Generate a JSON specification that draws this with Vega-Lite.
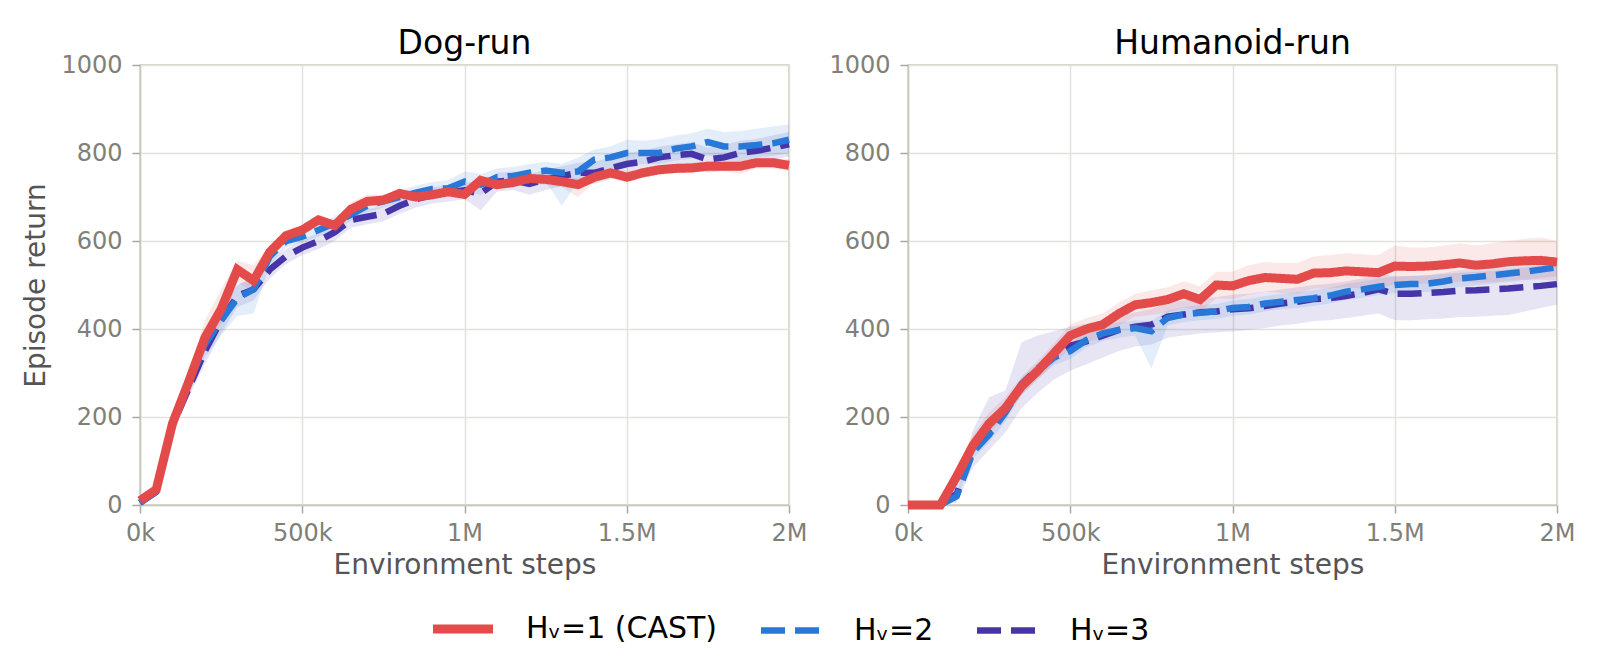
{
  "$schema": "https://vega.github.io/schema/vega-lite/v6.json",
  "background": "white",
  "padding": {"left": 22, "top": 27, "right": 10, "bottom": 5},
  "spacing": 20,
  "datasets": {
    "runs": [
      {"t":"Dog-run","s":"3","k":0,"v":5,"lo":0,"hi":12},
      {"t":"Dog-run","s":"3","k":50,"v":30,"lo":20,"hi":40},
      {"t":"Dog-run","s":"3","k":100,"v":180,"lo":165,"hi":195},
      {"t":"Dog-run","s":"3","k":150,"v":265,"lo":245,"hi":290},
      {"t":"Dog-run","s":"3","k":200,"v":350,"lo":320,"hi":380},
      {"t":"Dog-run","s":"3","k":250,"v":420,"lo":390,"hi":450},
      {"t":"Dog-run","s":"3","k":300,"v":475,"lo":450,"hi":500},
      {"t":"Dog-run","s":"3","k":350,"v":490,"lo":465,"hi":515},
      {"t":"Dog-run","s":"3","k":400,"v":535,"lo":515,"hi":555},
      {"t":"Dog-run","s":"3","k":450,"v":565,"lo":548,"hi":582},
      {"t":"Dog-run","s":"3","k":500,"v":585,"lo":568,"hi":602},
      {"t":"Dog-run","s":"3","k":550,"v":600,"lo":582,"hi":618},
      {"t":"Dog-run","s":"3","k":600,"v":620,"lo":600,"hi":640},
      {"t":"Dog-run","s":"3","k":650,"v":648,"lo":630,"hi":665},
      {"t":"Dog-run","s":"3","k":700,"v":655,"lo":638,"hi":672},
      {"t":"Dog-run","s":"3","k":750,"v":662,"lo":645,"hi":680},
      {"t":"Dog-run","s":"3","k":800,"v":680,"lo":662,"hi":698},
      {"t":"Dog-run","s":"3","k":850,"v":695,"lo":676,"hi":712},
      {"t":"Dog-run","s":"3","k":900,"v":705,"lo":685,"hi":722},
      {"t":"Dog-run","s":"3","k":950,"v":710,"lo":690,"hi":728},
      {"t":"Dog-run","s":"3","k":1000,"v":715,"lo":695,"hi":735},
      {"t":"Dog-run","s":"3","k":1050,"v":708,"lo":670,"hi":730},
      {"t":"Dog-run","s":"3","k":1100,"v":735,"lo":712,"hi":755},
      {"t":"Dog-run","s":"3","k":1150,"v":738,"lo":716,"hi":758},
      {"t":"Dog-run","s":"3","k":1200,"v":730,"lo":705,"hi":752},
      {"t":"Dog-run","s":"3","k":1250,"v":740,"lo":716,"hi":762},
      {"t":"Dog-run","s":"3","k":1300,"v":748,"lo":725,"hi":770},
      {"t":"Dog-run","s":"3","k":1350,"v":755,"lo":730,"hi":778},
      {"t":"Dog-run","s":"3","k":1400,"v":755,"lo":730,"hi":780},
      {"t":"Dog-run","s":"3","k":1450,"v":765,"lo":740,"hi":790},
      {"t":"Dog-run","s":"3","k":1500,"v":775,"lo":750,"hi":800},
      {"t":"Dog-run","s":"3","k":1550,"v":780,"lo":755,"hi":805},
      {"t":"Dog-run","s":"3","k":1600,"v":790,"lo":765,"hi":815},
      {"t":"Dog-run","s":"3","k":1650,"v":795,"lo":770,"hi":820},
      {"t":"Dog-run","s":"3","k":1700,"v":798,"lo":772,"hi":825},
      {"t":"Dog-run","s":"3","k":1750,"v":785,"lo":755,"hi":812},
      {"t":"Dog-run","s":"3","k":1800,"v":790,"lo":760,"hi":818},
      {"t":"Dog-run","s":"3","k":1850,"v":800,"lo":772,"hi":828},
      {"t":"Dog-run","s":"3","k":1900,"v":805,"lo":778,"hi":832},
      {"t":"Dog-run","s":"3","k":1950,"v":812,"lo":785,"hi":840},
      {"t":"Dog-run","s":"3","k":2000,"v":820,"lo":792,"hi":848},

      {"t":"Dog-run","s":"2","k":0,"v":5,"lo":0,"hi":12},
      {"t":"Dog-run","s":"2","k":50,"v":30,"lo":20,"hi":40},
      {"t":"Dog-run","s":"2","k":100,"v":185,"lo":170,"hi":200},
      {"t":"Dog-run","s":"2","k":150,"v":275,"lo":250,"hi":300},
      {"t":"Dog-run","s":"2","k":200,"v":365,"lo":335,"hi":395},
      {"t":"Dog-run","s":"2","k":250,"v":420,"lo":385,"hi":455},
      {"t":"Dog-run","s":"2","k":300,"v":470,"lo":430,"hi":500},
      {"t":"Dog-run","s":"2","k":350,"v":490,"lo":435,"hi":520},
      {"t":"Dog-run","s":"2","k":400,"v":565,"lo":545,"hi":585},
      {"t":"Dog-run","s":"2","k":450,"v":600,"lo":585,"hi":615},
      {"t":"Dog-run","s":"2","k":500,"v":610,"lo":597,"hi":625},
      {"t":"Dog-run","s":"2","k":550,"v":625,"lo":610,"hi":640},
      {"t":"Dog-run","s":"2","k":600,"v":640,"lo":625,"hi":656},
      {"t":"Dog-run","s":"2","k":650,"v":660,"lo":645,"hi":676},
      {"t":"Dog-run","s":"2","k":700,"v":680,"lo":665,"hi":695},
      {"t":"Dog-run","s":"2","k":750,"v":690,"lo":676,"hi":705},
      {"t":"Dog-run","s":"2","k":800,"v":700,"lo":686,"hi":715},
      {"t":"Dog-run","s":"2","k":850,"v":710,"lo":694,"hi":726},
      {"t":"Dog-run","s":"2","k":900,"v":718,"lo":702,"hi":734},
      {"t":"Dog-run","s":"2","k":950,"v":720,"lo":702,"hi":738},
      {"t":"Dog-run","s":"2","k":1000,"v":735,"lo":712,"hi":758},
      {"t":"Dog-run","s":"2","k":1050,"v":728,"lo":705,"hi":752},
      {"t":"Dog-run","s":"2","k":1100,"v":745,"lo":725,"hi":765},
      {"t":"Dog-run","s":"2","k":1150,"v":748,"lo":728,"hi":768},
      {"t":"Dog-run","s":"2","k":1200,"v":755,"lo":735,"hi":775},
      {"t":"Dog-run","s":"2","k":1250,"v":760,"lo":735,"hi":780},
      {"t":"Dog-run","s":"2","k":1300,"v":755,"lo":680,"hi":775},
      {"t":"Dog-run","s":"2","k":1350,"v":758,"lo":735,"hi":790},
      {"t":"Dog-run","s":"2","k":1400,"v":785,"lo":760,"hi":808},
      {"t":"Dog-run","s":"2","k":1450,"v":790,"lo":765,"hi":815},
      {"t":"Dog-run","s":"2","k":1500,"v":800,"lo":772,"hi":830},
      {"t":"Dog-run","s":"2","k":1550,"v":800,"lo":775,"hi":828},
      {"t":"Dog-run","s":"2","k":1600,"v":800,"lo":775,"hi":832},
      {"t":"Dog-run","s":"2","k":1650,"v":810,"lo":783,"hi":840},
      {"t":"Dog-run","s":"2","k":1700,"v":815,"lo":787,"hi":845},
      {"t":"Dog-run","s":"2","k":1750,"v":825,"lo":795,"hi":855},
      {"t":"Dog-run","s":"2","k":1800,"v":815,"lo":785,"hi":848},
      {"t":"Dog-run","s":"2","k":1850,"v":815,"lo":785,"hi":850},
      {"t":"Dog-run","s":"2","k":1900,"v":818,"lo":790,"hi":855},
      {"t":"Dog-run","s":"2","k":1950,"v":822,"lo":793,"hi":860},
      {"t":"Dog-run","s":"2","k":2000,"v":830,"lo":800,"hi":865},

      {"t":"Dog-run","s":"1","k":0,"v":10,"lo":5,"hi":15},
      {"t":"Dog-run","s":"1","k":50,"v":35,"lo":27,"hi":43},
      {"t":"Dog-run","s":"1","k":100,"v":185,"lo":170,"hi":200},
      {"t":"Dog-run","s":"1","k":150,"v":280,"lo":260,"hi":300},
      {"t":"Dog-run","s":"1","k":200,"v":380,"lo":350,"hi":420},
      {"t":"Dog-run","s":"1","k":250,"v":445,"lo":410,"hi":490},
      {"t":"Dog-run","s":"1","k":300,"v":535,"lo":505,"hi":555},
      {"t":"Dog-run","s":"1","k":350,"v":510,"lo":485,"hi":545},
      {"t":"Dog-run","s":"1","k":400,"v":575,"lo":560,"hi":590},
      {"t":"Dog-run","s":"1","k":450,"v":612,"lo":600,"hi":625},
      {"t":"Dog-run","s":"1","k":500,"v":625,"lo":615,"hi":637},
      {"t":"Dog-run","s":"1","k":550,"v":648,"lo":636,"hi":660},
      {"t":"Dog-run","s":"1","k":600,"v":635,"lo":622,"hi":648},
      {"t":"Dog-run","s":"1","k":650,"v":672,"lo":660,"hi":688},
      {"t":"Dog-run","s":"1","k":700,"v":690,"lo":678,"hi":705},
      {"t":"Dog-run","s":"1","k":750,"v":693,"lo":682,"hi":705},
      {"t":"Dog-run","s":"1","k":800,"v":708,"lo":697,"hi":718},
      {"t":"Dog-run","s":"1","k":850,"v":700,"lo":690,"hi":712},
      {"t":"Dog-run","s":"1","k":900,"v":705,"lo":695,"hi":716},
      {"t":"Dog-run","s":"1","k":950,"v":712,"lo":700,"hi":722},
      {"t":"Dog-run","s":"1","k":1000,"v":706,"lo":695,"hi":718},
      {"t":"Dog-run","s":"1","k":1050,"v":738,"lo":726,"hi":748},
      {"t":"Dog-run","s":"1","k":1100,"v":728,"lo":718,"hi":740},
      {"t":"Dog-run","s":"1","k":1150,"v":733,"lo":722,"hi":744},
      {"t":"Dog-run","s":"1","k":1200,"v":742,"lo":730,"hi":752},
      {"t":"Dog-run","s":"1","k":1250,"v":740,"lo":728,"hi":752},
      {"t":"Dog-run","s":"1","k":1300,"v":735,"lo":722,"hi":748},
      {"t":"Dog-run","s":"1","k":1350,"v":728,"lo":700,"hi":742},
      {"t":"Dog-run","s":"1","k":1400,"v":745,"lo":733,"hi":756},
      {"t":"Dog-run","s":"1","k":1450,"v":755,"lo":743,"hi":767},
      {"t":"Dog-run","s":"1","k":1500,"v":745,"lo":733,"hi":758},
      {"t":"Dog-run","s":"1","k":1550,"v":755,"lo":744,"hi":766},
      {"t":"Dog-run","s":"1","k":1600,"v":762,"lo":750,"hi":772},
      {"t":"Dog-run","s":"1","k":1650,"v":765,"lo":754,"hi":776},
      {"t":"Dog-run","s":"1","k":1700,"v":766,"lo":755,"hi":778},
      {"t":"Dog-run","s":"1","k":1750,"v":770,"lo":758,"hi":782},
      {"t":"Dog-run","s":"1","k":1800,"v":770,"lo":758,"hi":783},
      {"t":"Dog-run","s":"1","k":1850,"v":770,"lo":752,"hi":785},
      {"t":"Dog-run","s":"1","k":1900,"v":778,"lo":765,"hi":790},
      {"t":"Dog-run","s":"1","k":1950,"v":778,"lo":765,"hi":790},
      {"t":"Dog-run","s":"1","k":2000,"v":772,"lo":758,"hi":786},

      {"t":"Humanoid-run","s":"3","k":0,"v":0,"lo":0,"hi":3},
      {"t":"Humanoid-run","s":"3","k":50,"v":0,"lo":0,"hi":3},
      {"t":"Humanoid-run","s":"3","k":100,"v":0,"lo":0,"hi":3},
      {"t":"Humanoid-run","s":"3","k":150,"v":25,"lo":5,"hi":50},
      {"t":"Humanoid-run","s":"3","k":200,"v":125,"lo":85,"hi":170},
      {"t":"Humanoid-run","s":"3","k":250,"v":170,"lo":125,"hi":245},
      {"t":"Humanoid-run","s":"3","k":300,"v":215,"lo":165,"hi":260},
      {"t":"Humanoid-run","s":"3","k":350,"v":275,"lo":220,"hi":370},
      {"t":"Humanoid-run","s":"3","k":400,"v":310,"lo":255,"hi":385},
      {"t":"Humanoid-run","s":"3","k":450,"v":340,"lo":285,"hi":395},
      {"t":"Humanoid-run","s":"3","k":500,"v":362,"lo":305,"hi":405},
      {"t":"Humanoid-run","s":"3","k":550,"v":372,"lo":320,"hi":412},
      {"t":"Humanoid-run","s":"3","k":600,"v":385,"lo":335,"hi":420},
      {"t":"Humanoid-run","s":"3","k":650,"v":398,"lo":350,"hi":430},
      {"t":"Humanoid-run","s":"3","k":700,"v":405,"lo":360,"hi":438},
      {"t":"Humanoid-run","s":"3","k":750,"v":410,"lo":365,"hi":445},
      {"t":"Humanoid-run","s":"3","k":800,"v":428,"lo":380,"hi":460},
      {"t":"Humanoid-run","s":"3","k":850,"v":433,"lo":385,"hi":465},
      {"t":"Humanoid-run","s":"3","k":900,"v":438,"lo":390,"hi":470},
      {"t":"Humanoid-run","s":"3","k":950,"v":440,"lo":392,"hi":472},
      {"t":"Humanoid-run","s":"3","k":1000,"v":445,"lo":395,"hi":478},
      {"t":"Humanoid-run","s":"3","k":1050,"v":447,"lo":398,"hi":480},
      {"t":"Humanoid-run","s":"3","k":1100,"v":452,"lo":402,"hi":485},
      {"t":"Humanoid-run","s":"3","k":1150,"v":458,"lo":408,"hi":490},
      {"t":"Humanoid-run","s":"3","k":1200,"v":462,"lo":412,"hi":495},
      {"t":"Humanoid-run","s":"3","k":1250,"v":468,"lo":418,"hi":500},
      {"t":"Humanoid-run","s":"3","k":1300,"v":470,"lo":420,"hi":503},
      {"t":"Humanoid-run","s":"3","k":1350,"v":475,"lo":425,"hi":508},
      {"t":"Humanoid-run","s":"3","k":1400,"v":482,"lo":430,"hi":515},
      {"t":"Humanoid-run","s":"3","k":1450,"v":490,"lo":435,"hi":525},
      {"t":"Humanoid-run","s":"3","k":1500,"v":480,"lo":420,"hi":520},
      {"t":"Humanoid-run","s":"3","k":1550,"v":480,"lo":420,"hi":520},
      {"t":"Humanoid-run","s":"3","k":1600,"v":482,"lo":422,"hi":522},
      {"t":"Humanoid-run","s":"3","k":1650,"v":484,"lo":424,"hi":525},
      {"t":"Humanoid-run","s":"3","k":1700,"v":487,"lo":427,"hi":528},
      {"t":"Humanoid-run","s":"3","k":1750,"v":488,"lo":428,"hi":530},
      {"t":"Humanoid-run","s":"3","k":1800,"v":490,"lo":430,"hi":532},
      {"t":"Humanoid-run","s":"3","k":1850,"v":492,"lo":432,"hi":535},
      {"t":"Humanoid-run","s":"3","k":1900,"v":495,"lo":440,"hi":540},
      {"t":"Humanoid-run","s":"3","k":1950,"v":498,"lo":448,"hi":545},
      {"t":"Humanoid-run","s":"3","k":2000,"v":502,"lo":455,"hi":548},

      {"t":"Humanoid-run","s":"2","k":0,"v":0,"lo":0,"hi":3},
      {"t":"Humanoid-run","s":"2","k":50,"v":0,"lo":0,"hi":3},
      {"t":"Humanoid-run","s":"2","k":100,"v":0,"lo":0,"hi":3},
      {"t":"Humanoid-run","s":"2","k":150,"v":20,"lo":10,"hi":30},
      {"t":"Humanoid-run","s":"2","k":200,"v":120,"lo":105,"hi":138},
      {"t":"Humanoid-run","s":"2","k":250,"v":160,"lo":142,"hi":180},
      {"t":"Humanoid-run","s":"2","k":300,"v":210,"lo":190,"hi":230},
      {"t":"Humanoid-run","s":"2","k":350,"v":270,"lo":250,"hi":290},
      {"t":"Humanoid-run","s":"2","k":400,"v":305,"lo":287,"hi":322},
      {"t":"Humanoid-run","s":"2","k":450,"v":335,"lo":318,"hi":352},
      {"t":"Humanoid-run","s":"2","k":500,"v":350,"lo":332,"hi":368},
      {"t":"Humanoid-run","s":"2","k":550,"v":375,"lo":358,"hi":392},
      {"t":"Humanoid-run","s":"2","k":600,"v":390,"lo":372,"hi":407},
      {"t":"Humanoid-run","s":"2","k":650,"v":398,"lo":380,"hi":415},
      {"t":"Humanoid-run","s":"2","k":700,"v":402,"lo":385,"hi":420},
      {"t":"Humanoid-run","s":"2","k":750,"v":395,"lo":310,"hi":418},
      {"t":"Humanoid-run","s":"2","k":800,"v":425,"lo":408,"hi":442},
      {"t":"Humanoid-run","s":"2","k":850,"v":433,"lo":416,"hi":450},
      {"t":"Humanoid-run","s":"2","k":900,"v":437,"lo":420,"hi":454},
      {"t":"Humanoid-run","s":"2","k":950,"v":440,"lo":423,"hi":457},
      {"t":"Humanoid-run","s":"2","k":1000,"v":448,"lo":430,"hi":465},
      {"t":"Humanoid-run","s":"2","k":1050,"v":450,"lo":433,"hi":468},
      {"t":"Humanoid-run","s":"2","k":1100,"v":458,"lo":440,"hi":475},
      {"t":"Humanoid-run","s":"2","k":1150,"v":462,"lo":445,"hi":480},
      {"t":"Humanoid-run","s":"2","k":1200,"v":466,"lo":448,"hi":483},
      {"t":"Humanoid-run","s":"2","k":1250,"v":470,"lo":452,"hi":488},
      {"t":"Humanoid-run","s":"2","k":1300,"v":476,"lo":458,"hi":494},
      {"t":"Humanoid-run","s":"2","k":1350,"v":485,"lo":466,"hi":503},
      {"t":"Humanoid-run","s":"2","k":1400,"v":490,"lo":471,"hi":508},
      {"t":"Humanoid-run","s":"2","k":1450,"v":496,"lo":477,"hi":515},
      {"t":"Humanoid-run","s":"2","k":1500,"v":500,"lo":481,"hi":519},
      {"t":"Humanoid-run","s":"2","k":1550,"v":502,"lo":483,"hi":521},
      {"t":"Humanoid-run","s":"2","k":1600,"v":503,"lo":484,"hi":522},
      {"t":"Humanoid-run","s":"2","k":1650,"v":508,"lo":489,"hi":527},
      {"t":"Humanoid-run","s":"2","k":1700,"v":515,"lo":496,"hi":534},
      {"t":"Humanoid-run","s":"2","k":1750,"v":518,"lo":499,"hi":537},
      {"t":"Humanoid-run","s":"2","k":1800,"v":522,"lo":503,"hi":541},
      {"t":"Humanoid-run","s":"2","k":1850,"v":526,"lo":507,"hi":545},
      {"t":"Humanoid-run","s":"2","k":1900,"v":530,"lo":511,"hi":549},
      {"t":"Humanoid-run","s":"2","k":1950,"v":535,"lo":516,"hi":554},
      {"t":"Humanoid-run","s":"2","k":2000,"v":540,"lo":520,"hi":560},

      {"t":"Humanoid-run","s":"1","k":0,"v":0,"lo":0,"hi":3},
      {"t":"Humanoid-run","s":"1","k":50,"v":0,"lo":0,"hi":3},
      {"t":"Humanoid-run","s":"1","k":100,"v":0,"lo":0,"hi":3},
      {"t":"Humanoid-run","s":"1","k":150,"v":65,"lo":50,"hi":80},
      {"t":"Humanoid-run","s":"1","k":200,"v":135,"lo":115,"hi":160},
      {"t":"Humanoid-run","s":"1","k":250,"v":185,"lo":165,"hi":210},
      {"t":"Humanoid-run","s":"1","k":300,"v":220,"lo":200,"hi":245},
      {"t":"Humanoid-run","s":"1","k":350,"v":270,"lo":250,"hi":292},
      {"t":"Humanoid-run","s":"1","k":400,"v":305,"lo":285,"hi":328},
      {"t":"Humanoid-run","s":"1","k":450,"v":345,"lo":322,"hi":368},
      {"t":"Humanoid-run","s":"1","k":500,"v":385,"lo":355,"hi":410},
      {"t":"Humanoid-run","s":"1","k":550,"v":400,"lo":370,"hi":425},
      {"t":"Humanoid-run","s":"1","k":600,"v":410,"lo":380,"hi":435},
      {"t":"Humanoid-run","s":"1","k":650,"v":435,"lo":408,"hi":460},
      {"t":"Humanoid-run","s":"1","k":700,"v":455,"lo":428,"hi":480},
      {"t":"Humanoid-run","s":"1","k":750,"v":460,"lo":432,"hi":488},
      {"t":"Humanoid-run","s":"1","k":800,"v":467,"lo":438,"hi":495},
      {"t":"Humanoid-run","s":"1","k":850,"v":480,"lo":450,"hi":508},
      {"t":"Humanoid-run","s":"1","k":900,"v":467,"lo":440,"hi":497},
      {"t":"Humanoid-run","s":"1","k":950,"v":500,"lo":470,"hi":530},
      {"t":"Humanoid-run","s":"1","k":1000,"v":498,"lo":468,"hi":530},
      {"t":"Humanoid-run","s":"1","k":1050,"v":510,"lo":478,"hi":545},
      {"t":"Humanoid-run","s":"1","k":1100,"v":517,"lo":485,"hi":552},
      {"t":"Humanoid-run","s":"1","k":1150,"v":515,"lo":482,"hi":550},
      {"t":"Humanoid-run","s":"1","k":1200,"v":513,"lo":480,"hi":550},
      {"t":"Humanoid-run","s":"1","k":1250,"v":527,"lo":492,"hi":565},
      {"t":"Humanoid-run","s":"1","k":1300,"v":528,"lo":492,"hi":568},
      {"t":"Humanoid-run","s":"1","k":1350,"v":532,"lo":495,"hi":572},
      {"t":"Humanoid-run","s":"1","k":1400,"v":530,"lo":492,"hi":570},
      {"t":"Humanoid-run","s":"1","k":1450,"v":528,"lo":490,"hi":568},
      {"t":"Humanoid-run","s":"1","k":1500,"v":543,"lo":502,"hi":590},
      {"t":"Humanoid-run","s":"1","k":1550,"v":542,"lo":502,"hi":585},
      {"t":"Humanoid-run","s":"1","k":1600,"v":543,"lo":503,"hi":585},
      {"t":"Humanoid-run","s":"1","k":1650,"v":546,"lo":505,"hi":590},
      {"t":"Humanoid-run","s":"1","k":1700,"v":550,"lo":508,"hi":595},
      {"t":"Humanoid-run","s":"1","k":1750,"v":545,"lo":505,"hi":590},
      {"t":"Humanoid-run","s":"1","k":1800,"v":548,"lo":506,"hi":595},
      {"t":"Humanoid-run","s":"1","k":1850,"v":553,"lo":510,"hi":600},
      {"t":"Humanoid-run","s":"1","k":1900,"v":555,"lo":512,"hi":605},
      {"t":"Humanoid-run","s":"1","k":1950,"v":556,"lo":512,"hi":608},
      {"t":"Humanoid-run","s":"1","k":2000,"v":552,"lo":510,"hi":600}
    ]
  },
  "hconcat": [
    {
      "width": 649,
      "height": 440,
      "title": "Dog-run",
      "data": {"name": "runs"},
      "transform": [{"filter": "datum.t == 'Dog-run'"}],
      "encoding": {
        "x": {
          "field": "k", "type": "quantitative", "title": "Environment steps",
          "scale": {"domain": [0, 2000], "nice": false},
          "axis": {"values": [0, 500, 1000, 1500, 2000]}
        },
        "color": {"field": "s", "type": "nominal", "title": null,
          "scale": {"domain": ["1", "2", "3"], "range": ["#e34a4a", "#2878d8", "#4635a8"]},
          "legend": {"labelExpr": "datum.value == '1' ? 'Hᵥ=1 (CAST)' : 'Hᵥ=' + datum.value",
            "encode": {"symbols": {"update": {"strokeWidth": {"signal": "datum.value == '1' ? 9 : 6.5"}}}}}}
      },
      "layer": [
        {
          "mark": {"type": "area", "opacity": 0.13},
          "encoding": {
            "y": {"field": "lo", "type": "quantitative"},
            "y2": {"field": "hi"}
          }
        },
        {
          "mark": {"type": "line", "strokeCap": "butt"},
          "encoding": {
            "y": {"field": "v", "type": "quantitative", "title": "Episode return",
              "scale": {"domain": [0, 1000], "nice": false},
              "axis": {"values": [0, 200, 400, 600, 800, 1000]}},
            "strokeDash": {"field": "s", "type": "nominal", "title": null,
              "scale": {"domain": ["1", "2", "3"], "range": [[1, 0], [24, 10], [24, 10]]},
              "legend": {"labelExpr": "datum.value == '1' ? 'Hᵥ=1 (CAST)' : 'Hᵥ=' + datum.value",
                "encode": {"symbols": {"update": {"strokeWidth": {"signal": "datum.value == '1' ? 9 : 6.5"}}}}}},
            "strokeWidth": {"condition": {"test": "datum.s == '1'", "value": 9}, "value": 6.5}
          }
        }
      ]
    },
    {
      "width": 649,
      "height": 440,
      "title": "Humanoid-run",
      "data": {"name": "runs"},
      "transform": [{"filter": "datum.t == 'Humanoid-run'"}],
      "encoding": {
        "x": {
          "field": "k", "type": "quantitative", "title": "Environment steps",
          "scale": {"domain": [0, 2000], "nice": false},
          "axis": {"values": [0, 500, 1000, 1500, 2000]}
        },
        "color": {"field": "s", "type": "nominal", "title": null,
          "scale": {"domain": ["1", "2", "3"], "range": ["#e34a4a", "#2878d8", "#4635a8"]},
          "legend": {"labelExpr": "datum.value == '1' ? 'Hᵥ=1 (CAST)' : 'Hᵥ=' + datum.value",
            "encode": {"symbols": {"update": {"strokeWidth": {"signal": "datum.value == '1' ? 9 : 6.5"}}}}}}
      },
      "layer": [
        {
          "mark": {"type": "area", "opacity": 0.13},
          "encoding": {
            "y": {"field": "lo", "type": "quantitative"},
            "y2": {"field": "hi"}
          }
        },
        {
          "mark": {"type": "line", "strokeCap": "butt"},
          "encoding": {
            "y": {"field": "v", "type": "quantitative", "title": null,
              "scale": {"domain": [0, 1000], "nice": false},
              "axis": {"values": [0, 200, 400, 600, 800, 1000]}},
            "strokeDash": {"field": "s", "type": "nominal", "title": null,
              "scale": {"domain": ["1", "2", "3"], "range": [[1, 0], [24, 10], [24, 10]]},
              "legend": {"labelExpr": "datum.value == '1' ? 'Hᵥ=1 (CAST)' : 'Hᵥ=' + datum.value",
                "encode": {"symbols": {"update": {"strokeWidth": {"signal": "datum.value == '1' ? 9 : 6.5"}}}}}},
            "strokeWidth": {"condition": {"test": "datum.s == '1'", "value": 9}, "value": 6.5}
          }
        }
      ]
    }
  ],
  "config": {
    "font": "DejaVu Sans",
    "view": {"stroke": "#c8c8bc", "strokeWidth": 1.5},
    "title": {"fontSize": 33, "fontWeight": "normal", "color": "#000000", "offset": -8},
    "axis": {
      "labelFontSize": 24,
      "labelColor": "#808078",
      "labelFlush": false,
      "labelOverlap": false,
      "titleFontSize": 28,
      "titleFontWeight": "normal",
      "titleColor": "#555555",
      "domainColor": "#c8c8bc",
      "domainWidth": 1.5,
      "tickColor": "#a8a8a0",
      "tickSize": 8,
      "tickWidth": 1.5,
      "gridColor": "#e2e2da",
      "gridWidth": 1.5
    },
    "axisX": {"labelExpr": "datum.value < 1000 ? datum.value + 'k' : (datum.value / 1000) + 'M'", "labelPadding": 8, "titlePadding": 6},
    "axisY": {"format": "d", "labelPadding": 10, "titlePadding": 10},
    "legend": {
      "orient": "bottom",
      "direction": "horizontal",
      "layout": {"bottom": {"anchor": "middle"}},
      "symbolType": "stroke",
      "symbolSize": 3600,
      "symbolStrokeWidth": 7,
      "symbolOpacity": 1,
      "labelFontSize": 30,
      "labelColor": "#000000",
      "labelLimit": 400,
      "columnPadding": 30,
      "labelOffset": 48,
      "offset": 34
    }
  }
}
